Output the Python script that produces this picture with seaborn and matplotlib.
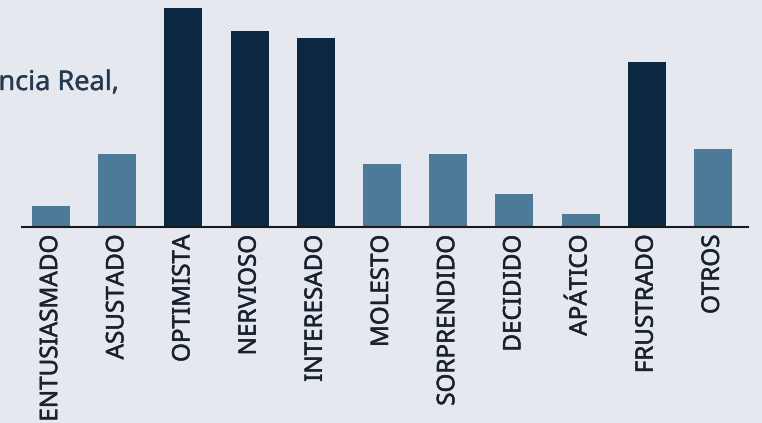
import pandas as pd
import seaborn as sns
from matplotlib import pyplot as plt
from matplotlib import patheffects as pe

# emotions and their share
emociones = ['ENTUSIASMADO', 'ASUSTADO', 'OPTIMISTA', 'NERVIOSO', 'INTERESADO',
             'MOLESTO', 'SORPRENDIDO', 'DECIDIDO', 'APÁTICO', 'FRUSTRADO', 'OTROS']
valores = [2.1, 7.3, 21.9, 19.6, 18.9, 6.3, 7.3, 3.3, 1.3, 16.5, 7.8]
destacado = [False, False, True, True, True, False, False, False, False, True, False]

OSCURO = '#0b2742'
CLARO = '#4c7a98'
FONDO = '#e6e8f0'
TEXTO = '#18222e'

df = pd.DataFrame({'emocion': emociones, 'valor': valores})
colores = [OSCURO if d else CLARO for d in destacado]

sns.set_style('white')
plt.rcParams['font.family'] = ['Noto Sans', 'DejaVu Sans']

fig = plt.figure(figsize=(7.62, 4.23), dpi=100, facecolor=FONDO)
ax = fig.add_axes([22 / 762, 1 - 227 / 423, 726 / 762, 227 / 423])
ax.set_facecolor(FONDO)

sns.barplot(data=df, x='emocion', y='valor', hue='emocion',
            palette=colores, width=0.574, legend=False, ax=ax,
            saturation=1, linewidth=0)

ax.set_xlim(-0.44, 10.53)
ax.set_ylim(0, 22.7)
ax.set_xlabel('')
ax.set_ylabel('')
ax.set_yticks([])
ax.tick_params(axis='x', length=0, pad=5.5, labelsize=17.4, labelcolor=TEXTO)
# a thin stroke makes the labels a touch heavier, like the original
plt.setp(ax.get_xticklabels(), rotation=90, va='top', ha='center',
         path_effects=[pe.withStroke(linewidth=0.35, foreground=TEXTO)])
sns.despine(ax=ax, left=True)
ax.spines['bottom'].set_color('#1a1a1a')
ax.spines['bottom'].set_linewidth(1.5)

fig.text(-0.002, 1 - 90 / 423, 'ncia Real,', fontsize=19.5, color='#25394f',
         ha='left', va='baseline',
         path_effects=[pe.withStroke(linewidth=0.25, foreground='#25394f')])

fig.savefig('out.png', dpi=100, facecolor=FONDO)
